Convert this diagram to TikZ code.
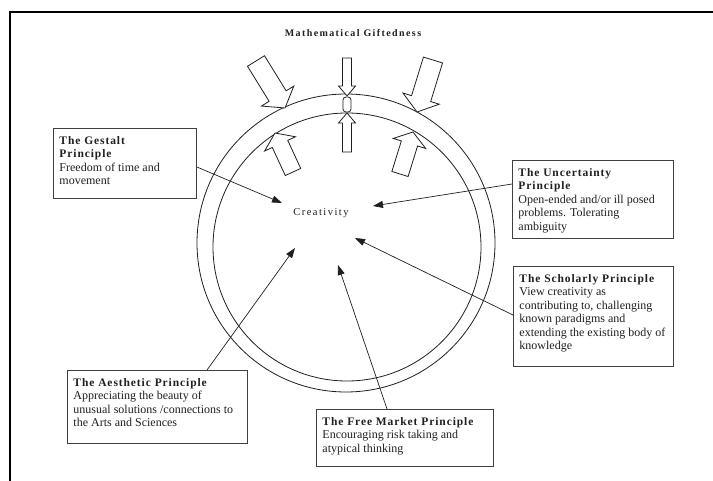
\documentclass[tikz,border=0pt]{standalone}
\usepackage{fontspec}
\setmainfont{Liberation Serif}
\newfontfamily\ttlfont{Liberation Serif}[LetterSpace=8]
\newfontfamily\spacedfont{Liberation Serif}[LetterSpace=14]
\usetikzlibrary{arrows.meta,calc}
\definecolor{ink}{gray}{0.12}
\definecolor{linegray}{gray}{0.25}
\newcommand\ttl{\ttlfont\bfseries\fontsize{11.5}{13.5}\selectfont}
\newcommand\hollowarrow[5]{%
  \coordinate (ht) at #1;
  \coordinate (hp) at #2;
  \coordinate (hb) at ($(hp)!#5!(ht)$);
  \draw[hollow] ($(ht)!#3!90:(hp)$) -- ($(hb)!#3!90:(hp)$) -- ($(hb)!#4!90:(hp)$) -- (hp)
     -- ($(hb)!#4!-90:(hp)$) -- ($(hb)!#3!-90:(hp)$) -- ($(ht)!#3!-90:(hp)$) -- cycle;}
\begin{document}
\begin{tikzpicture}[x=1pt,y=-1pt,
  box/.style={draw=linegray, line width=0.9pt, anchor=north west, inner xsep=6pt, inner ysep=8pt,
    font=\fontsize{12}{13.5}\selectfont, text=ink},
  conn/.style={draw=ink, line width=0.7pt, -{Triangle[length=10pt,width=7pt]}},
  hollow/.style={draw=ink, line width=0.8pt, fill=white, line join=miter},
  ring/.style={draw=ink, line width=0.8pt},
  label/.style={font=\spacedfont\fontsize{10.5}{12}\selectfont, text=ink}]
\useasboundingbox (0,0) rectangle (713,481);
\draw[line width=1.5pt] (10,481) -- (10,12) -- (713,12);

\node[label, font=\spacedfont\bfseries\fontsize{10}{12}\selectfont] (title) at (353,33) {Mathematical Giftedness};

\draw[ring] (346,243) circle[radius=149pt];
\draw[ring] (347,247) circle[radius=134pt];

\hollowarrow{(256,61)}{(285,108)}{10pt}{19pt}{14pt}
\hollowarrow{(347,58)}{(347,96)}{4.5pt}{8.5pt}{10pt}
\hollowarrow{(433,60)}{(417,112)}{10pt}{19pt}{14pt}
\hollowarrow{(293,172)}{(275,133)}{8.5pt}{17pt}{12pt}
\hollowarrow{(347,152)}{(347,113)}{4.5pt}{8.5pt}{10pt}
\hollowarrow{(400,174)}{(413,132)}{8.5pt}{17pt}{12pt}
\draw[ring, rounded corners=3pt] (343,97) rectangle (351,112);

\node[label] (crea) at (321,213) {Creativity};

\node[box] (gest) at (53,128) {\parbox[t][54pt][t]{131pt}{\raggedright
  {\ttl The Gestalt\\Principle}\\Freedom of time and\\movement}};
\node[box] (unc) at (512,160) {\parbox[t][62pt][t]{149pt}{\raggedright
  {\ttl The Uncertainty\\Principle}\\Open-ended and/or ill posed\\problems. Tolerating\\ambiguity}};
\node[box] (schol) at (513,266) {\parbox[t][84pt][t]{148pt}{\raggedright
  {\ttl The Scholarly Principle}\\View creativity as\\contributing to, challenging\\known paradigms and\\extending the existing body of\\knowledge}};
\node[box] (aes) at (67,370) {\parbox[t][57pt][t]{168pt}{\raggedright
  {\ttl The Aesthetic Principle}\\Appreciating the beauty of\\unusual solutions /connections to\\the Arts and Sciences}};
\node[box] (fm) at (316,409) {\parbox[t][41pt][t]{165pt}{\raggedright
  {\ttl The Free Market Principle}\\Encouraging risk taking and\\atypical thinking}};

\coordinate (tG) at (282,203);
\coordinate (tU) at (373,206);
\coordinate (tS) at (355,238);
\coordinate (tA) at (295,248);
\coordinate (tF) at (338,265);
\draw[conn] ($(gest.north east)+(0,39)$) -- (tG);
\draw[conn] ($(unc.north west)+(0,24)$) -- (tU);
\draw[conn] ($(schol.north west)+(0,49)$) -- (tS);
\draw[conn] ($(aes.north west)+(140,0)$) -- (tA);
\draw[conn] ($(fm.north west)+(71,0)$) -- (tF);
\end{tikzpicture}
\end{document}
